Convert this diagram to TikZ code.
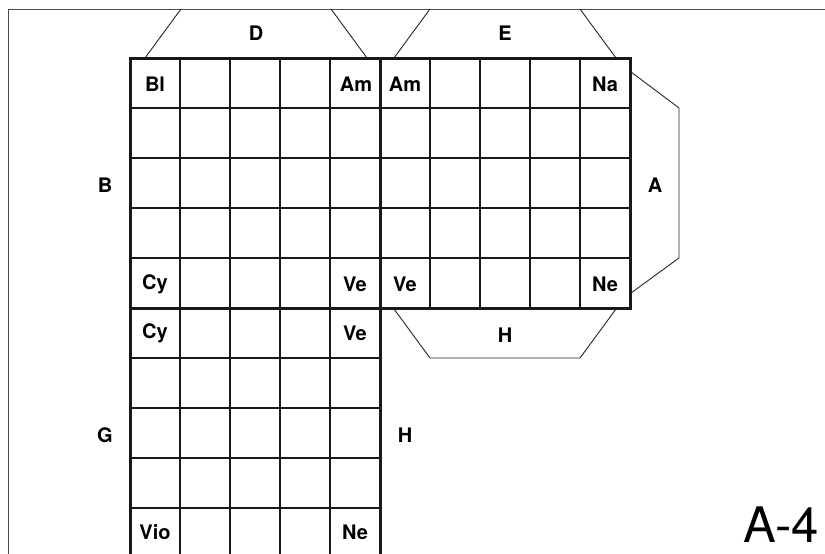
\documentclass[tikz,border=0pt]{standalone}
\usepackage{fontspec}
\setmainfont{TeX Gyre Heros}
\begin{document}
\begin{tikzpicture}[x=1pt,y=-1pt,
  frameline/.style={line width=1pt,draw=black!70},
  slant/.style={line width=0.9pt,draw=black!85},
  thin/.style={line width=1.2pt,draw=black!90},
  thick/.style={line width=3pt,draw=black!90},
  cell/.style={font=\fontsize{20}{20}\selectfont\bfseries,inner sep=0pt},
  side/.style={font=\fontsize{20}{20}\selectfont\bfseries,inner sep=0pt}]
\useasboundingbox (0,0) rectangle (825,554);
\clip (0,0) rectangle (825,554);
\fill[white] (0,0) rectangle (825,554);
% frame
\draw[frameline] (8,554) -- (8,9) -- (826,9);
% flaps
\draw[slant] (145,58) -- (181,9);
\draw[slant] (331,9) -- (367,58);
\draw[slant] (394,58) -- (430,9);
\draw[slant] (580,9) -- (616,58);
\draw[slant] (631,72) -- (679,108) -- (679,258) -- (631,293);
\draw[slant] (394,309) -- (430,358) -- (580,358) -- (616,309);
% inner lines upper
\foreach \x in {180,230,280,330,430,480,530,580} \draw[thin] (\x,58) -- (\x,308);
\foreach \y in {108,158,208,258} \draw[thin] (130,\y) -- (630,\y);
% inner lines lower
\foreach \x in {180,230,280,330} \draw[thin] (\x,308) -- (\x,560);
\foreach \y in {358,408,458,508} \draw[thin] (130,\y) -- (380,\y);
% thick borders
\draw[thick] (130,58) rectangle (630,308);
\draw[thick] (380,58) -- (380,308);
\draw[thick] (130,308) -- (130,560);
\draw[thick] (380,308) -- (380,560);
% cell labels
\node[cell] (bl) at (155,84) {Bl};
\node[cell] (am1) at (356,84) {Am};
\node[cell] (am2) at (405,84) {Am};
\node[cell] (na) at (605,84) {Na};
\node[cell] (cy1) at (155,284) {Cy};
\node[cell] (ve1) at (355,284) {Ve};
\node[cell] (ve2) at (405,284) {Ve};
\node[cell] (ne1) at (605,284) {Ne};
\node[cell] (cy2) at (155,333) {Cy};
\node[cell] (ve3) at (355,333) {Ve};
\node[cell] (vio) at (155,532) {Vio};
\node[cell] (ne2) at (355,532) {Ne};
% side labels
\node[side] (d) at (256,33) {D};
\node[side] (e) at (505,33) {E};
\node[side] (a) at (655,185) {A};
\node[side] (b) at (105,185) {B};
\node[side] (h1) at (505,335) {H};
\node[side] (g) at (105,435) {G};
\node[side] (h2) at (405,435) {H};
\node[font=\fontsize{49}{49}\selectfont,inner sep=0pt] (a4) at (781,524.5) {A-4};
\end{tikzpicture}
\end{document}
